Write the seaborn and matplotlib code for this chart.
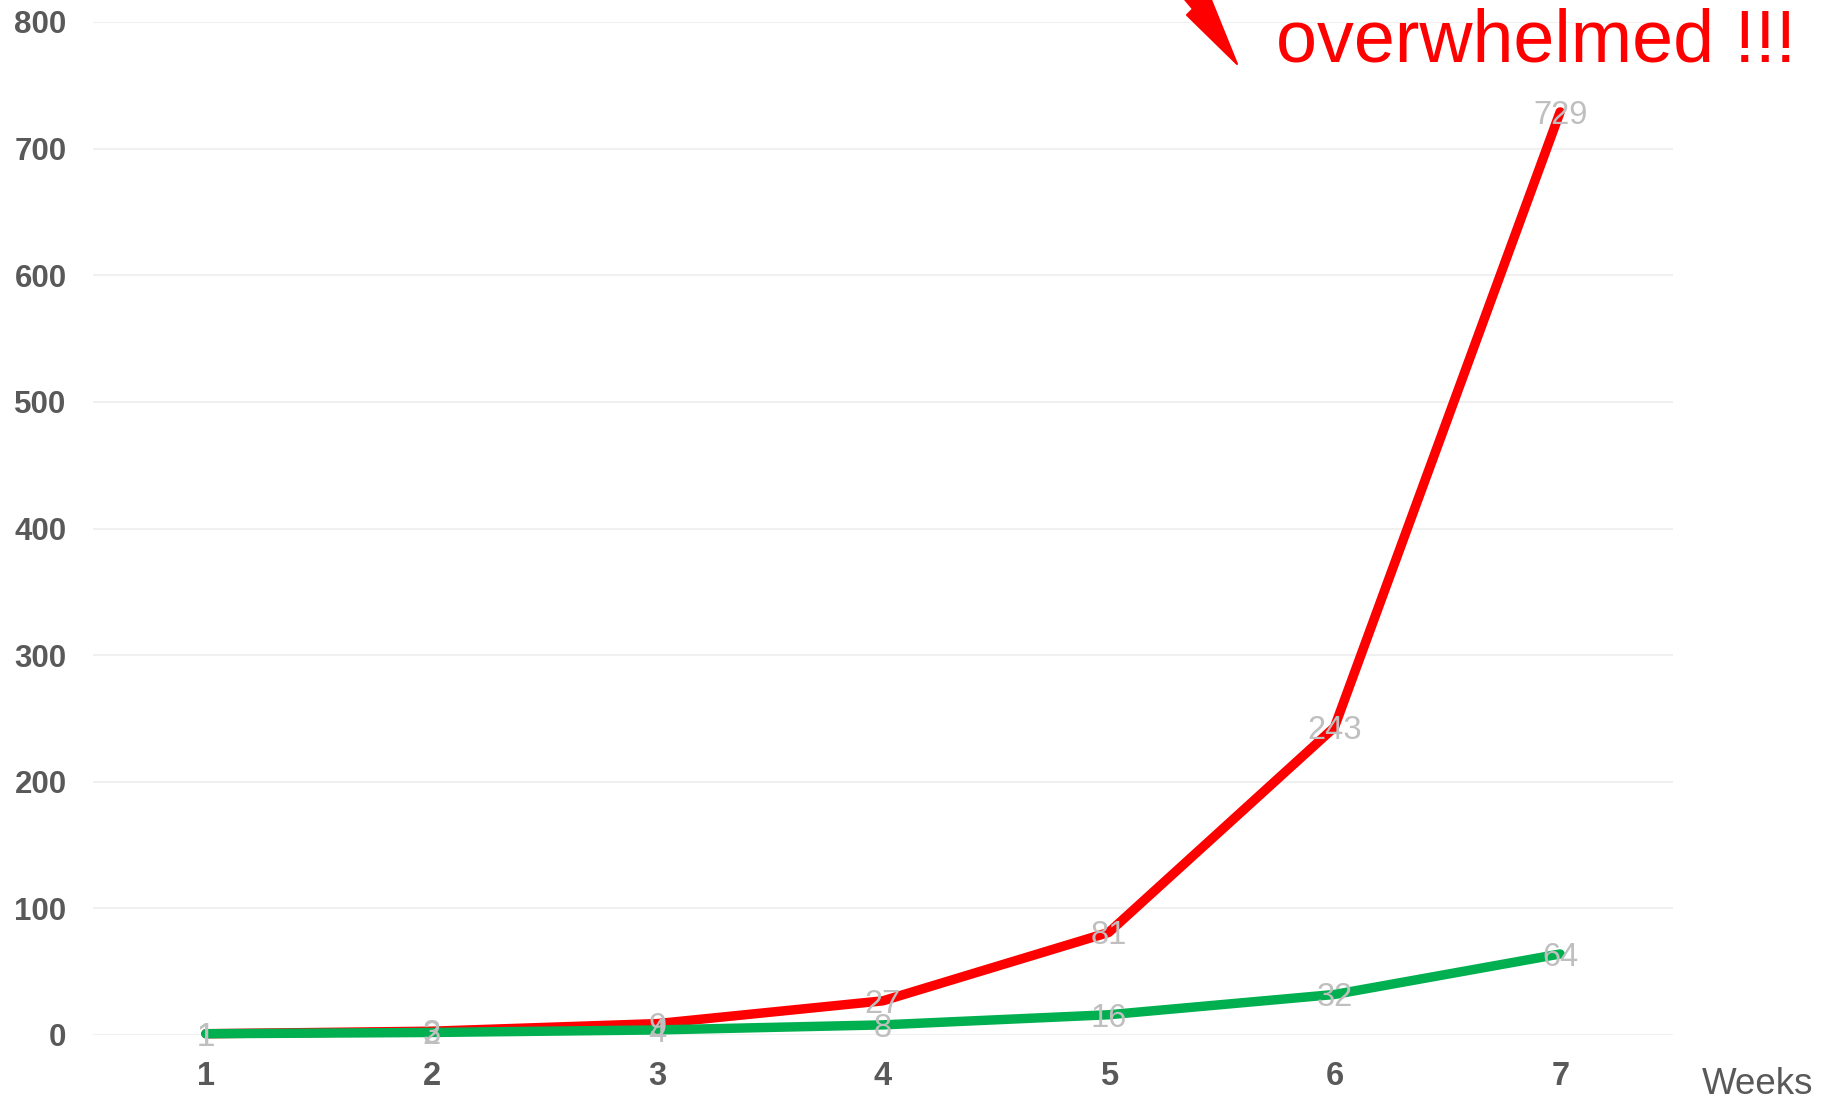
import numpy as np
import pandas as pd
import matplotlib
matplotlib.use("Agg")
import matplotlib.pyplot as plt
from matplotlib.patches import Polygon
import seaborn as sns

weeks = [1, 2, 3, 4, 5, 6, 7]
red_values = [1, 3, 9, 27, 81, 243, 729]
green_values = [1, 2, 4, 8, 16, 32, 64]
y_ticks = [0, 100, 200, 300, 400, 500, 600, 700, 800]
x_label = "Weeks"
annotation = "overwhelmed !!!"

sns.set_theme(style="white")
plt.rcParams['font.family'] = ['Liberation Sans', 'DejaVu Sans']

W, H = 1824, 1102
fig = plt.figure(figsize=(W / 100, H / 100), dpi=100)
ax = fig.add_axes([93 / W, 1 - 1035 / H, (1673 - 93) / W, (1035 - 22) / H])

df = pd.DataFrame({"week": weeks + weeks,
                   "value": red_values + green_values,
                   "series": ["red"] * 7 + ["green"] * 7})

sns.lineplot(data=df[df.series == "red"], x="week", y="value", color="#FF0000",
             linewidth=6.8, ax=ax, solid_capstyle="round", clip_on=False, zorder=3)
sns.lineplot(data=df[df.series == "green"], x="week", y="value", color="#00B050",
             linewidth=6.8, ax=ax, solid_capstyle="round", clip_on=False, zorder=4)

for x, v in zip(weeks, red_values):
    ax.annotate(str(v), (x, v), xytext=(0, -2.5), textcoords="offset points",
                ha="center", va="center", fontsize=23.5, color="#BFBFBF", zorder=6)
for x, v in zip(weeks, green_values):
    ax.annotate(str(v), (x, v), xytext=(0, -2.5), textcoords="offset points",
                ha="center", va="center", fontsize=23.5, color="#BFBFBF", zorder=6)

ax.set_xlim(0.5, 7.5)
ax.set_ylim(0, 800)
ax.set_xticks(weeks)
ax.set_yticks(y_ticks)
ax.set_xticklabels([str(w) for w in weeks], fontsize=23.5, fontweight="bold", color="#595959")
ax.set_yticklabels([str(t) for t in y_ticks], fontsize=22.5, fontweight="bold", color="#595959")
ax.tick_params(axis="x", length=0, pad=19)
ax.tick_params(axis="y", length=0, pad=19)
ax.set_xlabel("")
ax.set_ylabel("")
ax.grid(axis="y", color="#F0F0F0", linewidth=1.5)
ax.grid(axis="x", visible=False)
for s in ax.spines.values():
    s.set_visible(False)

fig.text(1702 / W, 1 - 1094 / H, x_label, fontsize=26.5, color="#595959",
         ha="left", va="baseline")
fig.text(1276 / W, 1 - 61 / H, annotation, fontsize=53, color="#FF0000",
         ha="left", va="baseline")

bolt_px = [(1177, -10), (1193, 9), (1187, 15), (1237, 64), (1207, -10)]
bolt = Polygon([(px / W, 1 - py / H) for px, py in bolt_px], closed=True,
               transform=fig.transFigure, facecolor="#FF0000", edgecolor="#FF0000",
               linewidth=1.5, joinstyle="round", clip_on=False)
fig.patches.append(bolt)

fig.savefig("out.png", dpi=100, facecolor="white")
